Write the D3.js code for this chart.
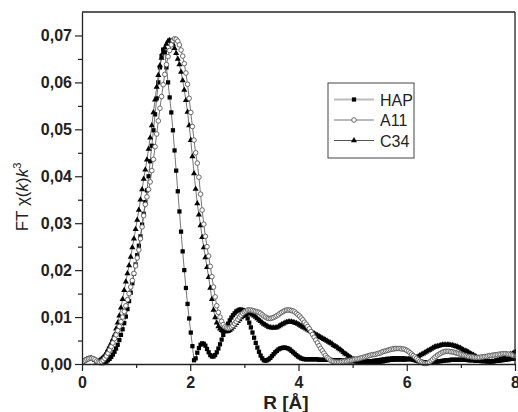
<!DOCTYPE html>
<html>
<head>
<meta charset="utf-8">
<script src="https://cdn.jsdelivr.net/npm/d3@7"></script>
<style>
  body { margin: 0; background: #fff; }
  svg { display: block; }
</style>
</head>
<body>
<div id="chart"></div>
<script>
// FT grid: one value every R_STEP Å starting at R = 0, values in units of 1e-4
const R_STEP = 0.03;
const UNIT = 1e-4;

const hapValues = [
  4,6,8,10,11,12,12,11,9,6,
  4,3,2,2,3,5,8,11,15,20,
  26,33,41,51,62,74,87,101,117,134,
  152,172,192,212,232,252,272,297,320,345,
  370,400,432,465,498,532,566,600,632,656,
  670,664,632,600,568,536,498,455,412,368,
  325,282,240,200,162,128,97,67,38,8,
  12,24,34,41,44,43,39,32,25,19,
  16,16,19,25,33,42,52,62,72,80,
  86,93,99,104,108,112,114,116,116,115,
  111,105,97,88,78,67,56,45,35,26,
  18,12,8,7,8,10,13,17,21,25,
  28,31,33,34,35,35,34,33,31,28,
  25,22,19,16,14,12,11,10,10,10,
  10,10,10,10,10,10,9,9,9,9,
  9,9,9,9,8,8,8,8,8,8,
  7,7,7,7,6,6,6,6,6,5,
  5,5,5,5,5,5,5,6,6,6,
  7,7,8,8,9,9,10,10,11,11,
  11,12,12,12,12,12,12,12,12,11,
  11,11,10,10,9,8,7,6,5,5,
  4,4,3,3,3,3,4,4,5,5,
  6,6,7,7,8,8,8,9,9,9,
  9,9,9,9,9,9,9,9,8,8,
  8,8,7,7,7,7,6,6,6,6,
  6,6,6,6,6,7,7,7,8,8,
  9,9,10,10,11,11,12,12
];

const a11Values = [
  4,6,8,10,11,12,12,11,9,6,
  4,3,5,8,12,17,23,30,37,45,
  54,62,71,80,90,100,112,124,137,150,
  164,178,193,209,226,243,267,292,316,340,
  356,372,388,412,436,463,490,518,545,570,
  595,617,638,655,668,680,689,693,692,688,
  680,669,656,640,620,596,566,536,506,477,
  450,428,398,362,328,298,272,250,230,208,
  186,164,143,124,110,100,91,84,79,77,
  76,77,79,82,86,90,95,100,104,108,
  111,113,115,115,115,114,113,112,111,110,
  108,105,102,100,98,97,97,98,99,101,
  103,105,108,110,112,114,115,115,115,114,
  113,111,108,105,102,98,94,89,85,80,
  75,69,63,57,51,45,39,33,28,23,
  18,14,11,8,6,5,4,4,4,4,
  5,5,6,6,7,8,8,9,10,11,
  11,12,13,14,15,16,17,18,19,20,
  20,21,22,23,24,26,27,28,29,30,
  31,32,32,33,33,33,33,32,32,31,
  29,27,24,21,18,15,12,9,6,4,
  2,1,1,2,4,7,10,13,16,19,
  21,23,25,26,27,27,27,26,26,25,
  24,23,22,21,20,19,18,17,16,16,
  15,15,14,14,14,14,15,15,16,16,
  17,18,18,19,19,20,20,21,21,22,
  22,22,21,21,20,19,18,17
];

const c34Values = [
  4,6,8,10,11,12,12,10,8,5,
  6,8,11,14,18,24,31,38,45,53,
  62,75,88,103,120,138,157,175,193,210,
  228,248,267,287,307,328,350,372,394,414,
  435,458,482,508,536,563,590,615,636,652,
  664,674,682,688,690,688,682,673,662,650,
  638,622,604,584,562,537,508,477,442,406,
  373,342,318,295,270,248,227,206,185,162,
  138,115,99,88,80,75,72,70,69,69,
  70,72,75,79,83,87,91,95,99,102,
  105,107,108,108,107,105,103,100,97,94,
  91,88,85,83,81,79,78,77,77,77,
  78,80,82,84,86,88,89,90,90,90,
  89,88,87,85,83,81,79,77,75,73,
  71,69,67,65,63,61,59,57,55,53,
  51,49,47,45,43,40,38,36,33,31,
  28,25,22,20,17,15,12,10,9,7,
  6,5,4,4,3,3,3,2,2,2,
  2,3,3,4,5,5,6,7,7,8,
  8,8,9,9,9,9,9,9,9,9,
  9,10,10,11,12,13,14,16,18,20,
  22,24,26,28,30,32,34,36,37,38,
  39,40,41,41,41,41,41,40,40,39,
  38,37,35,34,32,30,28,27,25,23,
  21,19,17,15,13,12,10,9,7,6,
  5,5,5,5,6,7,8,9,11,12,
  14,16,18,19,21,22,24,25
];

const seriesNames = ["HAP", "A11", "C34"];
const xTickValues = [0, 2, 4, 6, 8];
const xMinorTicks = [1, 3, 5, 7];
const yTickValues = [0, 0.01, 0.02, 0.03, 0.04, 0.05, 0.06, 0.07];
const yMinorTicks = [0.005, 0.015, 0.025, 0.035, 0.045, 0.055, 0.065];

const width = 518, height = 412;
const plot = {left: 82, right: 515, top: 12, bottom: 364};
const FONT = '"Liberation Sans", Arial, Helvetica, sans-serif';

const svg = d3.select("#chart").append("svg")
  .attr("width", width)
  .attr("height", height)
  .style("font-family", FONT);

svg.append("rect").attr("width", width).attr("height", height).attr("fill", "#fff");

const x = d3.scaleLinear().domain([0, 8]).range([plot.left, plot.right]);
const y = d3.scaleLinear().domain([0, 0.075]).range([plot.bottom, plot.top]);

const toPoints = vals => vals.map((v, i) => ({r: i * R_STEP, v: v * UNIT}));
const series = [
  {name: seriesNames[0], points: toPoints(hapValues), marker: "square"},
  {name: seriesNames[2], points: toPoints(c34Values), marker: "triangle"},
  {name: seriesNames[1], points: toPoints(a11Values), marker: "circle"}
];

svg.append("clipPath").attr("id", "plotClip")
  .append("rect")
  .attr("x", plot.left).attr("y", 0)
  .attr("width", plot.right - plot.left + 1).attr("height", height);

const line = d3.line().x(d => x(d.r)).y(d => y(d.v));

const squareSym = d3.symbol().type(d3.symbolSquare).size(18);
const triSym = d3.symbol().type(d3.symbolTriangle).size(16);

function drawMarker(sel, kind) {
  if (kind === "circle") {
    sel.append("circle").attr("r", 2.3)
      .attr("fill", "#fff").attr("stroke", "#5a5a5a").attr("stroke-width", 0.9);
  } else if (kind === "square") {
    sel.append("path").attr("d", squareSym()).attr("fill", "#000");
  } else {
    sel.append("path").attr("d", triSym()).attr("fill", "#000");
  }
}

const dataG = svg.append("g").attr("clip-path", "url(#plotClip)");

series.forEach(s => {
  const g = dataG.append("g");
  g.append("path")
    .datum(s.points)
    .attr("fill", "none")
    .attr("stroke", "#666")
    .attr("stroke-width", 0.9)
    .attr("d", line);
  g.selectAll("g.pt")
    .data(s.points)
    .join("g")
    .attr("class", "pt")
    .attr("transform", d => `translate(${x(d.r)},${y(d.v)})`)
    .each(function() { drawMarker(d3.select(this), s.marker); });
});

// axes
const fmt = d => d3.format(".2f")(d).replace(".", ",");

const yAxisG = svg.append("g")
  .attr("transform", `translate(${plot.left},0)`)
  .call(d3.axisLeft(y).tickValues(yTickValues).tickFormat(fmt)
    .tickSize(7).tickSizeOuter(0).tickPadding(3));
svg.append("g")
  .attr("transform", `translate(${plot.left},0)`)
  .call(d3.axisLeft(y).tickValues(yMinorTicks).tickFormat("").tickSize(4).tickSizeOuter(0))
  .select(".domain").remove();

const xAxisG = svg.append("g")
  .attr("transform", `translate(0,${plot.bottom})`)
  .call(d3.axisBottom(x).tickValues(xTickValues).tickFormat(d3.format("d"))
    .tickSize(7).tickSizeOuter(0).tickPadding(6));
svg.append("g")
  .attr("transform", `translate(0,${plot.bottom})`)
  .call(d3.axisBottom(x).tickValues(xMinorTicks).tickFormat("").tickSize(4).tickSizeOuter(0))
  .select(".domain").remove();

svg.selectAll(".tick line").attr("stroke", "#222").attr("stroke-width", 1.2);
svg.selectAll(".domain").attr("stroke", "#222").attr("stroke-width", 1.3);
[yAxisG, xAxisG].forEach(g => g.selectAll("text")
  .attr("font-family", FONT)
  .attr("font-size", 16)
  .attr("font-weight", "bold")
  .attr("fill", "#222"));

// frame
svg.append("line")
  .attr("x1", plot.left).attr("x2", plot.right)
  .attr("y1", plot.top).attr("y2", plot.top)
  .attr("stroke", "#222").attr("stroke-width", 1.3);
svg.append("line")
  .attr("x1", plot.right).attr("x2", plot.right)
  .attr("y1", plot.top).attr("y2", plot.bottom)
  .attr("stroke", "#222").attr("stroke-width", 1.3);

// axis titles
svg.append("text")
  .attr("x", 286).attr("y", 409)
  .attr("text-anchor", "middle")
  .attr("font-size", 19)
  .attr("font-weight", "bold")
  .attr("fill", "#222")
  .text("R [Å]");

const yTitle = svg.append("text")
  .attr("transform", "translate(28,197) rotate(-90)")
  .attr("text-anchor", "middle")
  .attr("font-size", 17)
  .attr("fill", "#222");
yTitle.append("tspan").text("FT χ(");
yTitle.append("tspan").attr("font-style", "italic").text("k");
yTitle.append("tspan").text(")");
yTitle.append("tspan").attr("font-style", "italic").text("k");
yTitle.append("tspan").attr("font-size", 11).attr("dy", -7).text("3");

// legend
const legend = svg.append("g");
legend.append("rect")
  .attr("x", 328).attr("y", 83).attr("width", 86).attr("height", 75)
  .attr("fill", "#fff").attr("stroke", "#444").attr("stroke-width", 1);

const legendItems = [
  {name: seriesNames[0], marker: "square", stroke: "#bbb", sw: 2},
  {name: seriesNames[1], marker: "circle", stroke: "#777", sw: 1},
  {name: seriesNames[2], marker: "triangle", stroke: "#555", sw: 1}
];
legendItems.forEach((d, i) => {
  const ly = 99.5 + i * 20.5;
  legend.append("line")
    .attr("x1", 334).attr("x2", 374).attr("y1", ly).attr("y2", ly)
    .attr("stroke", d.stroke).attr("stroke-width", d.sw);
  drawMarker(legend.append("g").attr("transform", `translate(354,${ly})`), d.marker);
  legend.append("text")
    .attr("x", 380).attr("y", ly + 6)
    .attr("font-size", 16)
    .attr("fill", "#222")
    .text(d.name);
});
</script>
</body>
</html>
